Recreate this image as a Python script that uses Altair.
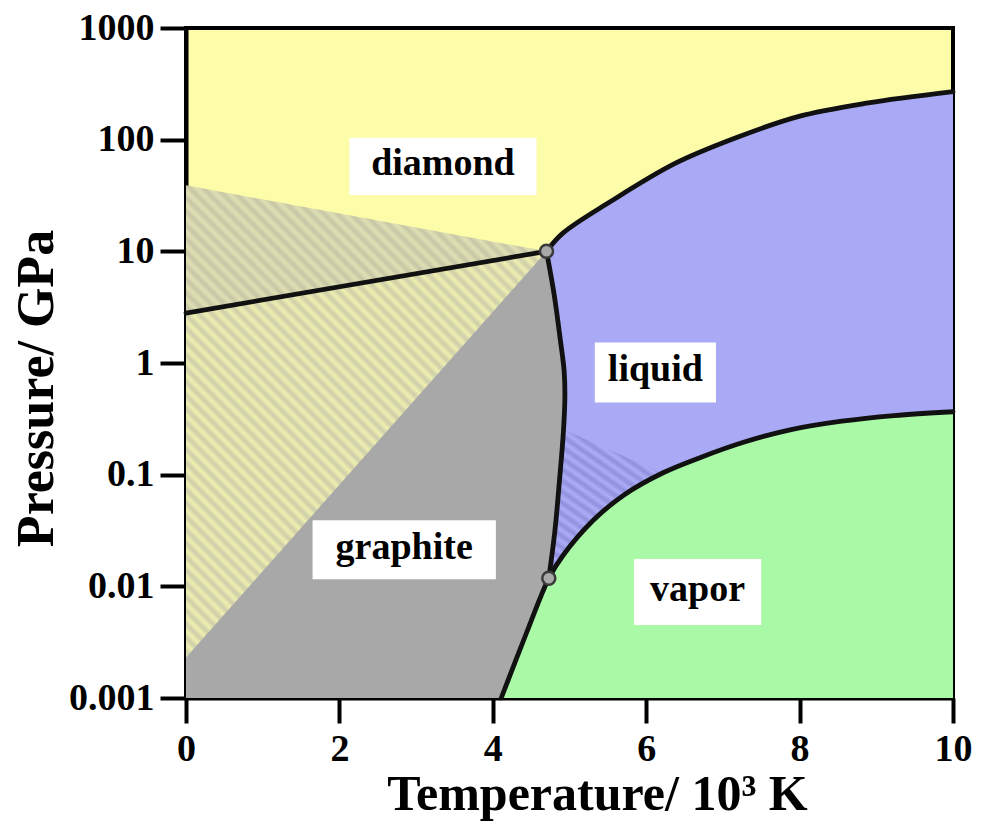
import math
import altair as alt
import numpy as np
import pandas as pd

# ---------------- data ----------------
x_ticks = [0, 2, 4, 6, 8, 10]
y_ticks = [0.001, 0.01, 0.1, 1, 10, 100, 1000]

# graphite / diamond boundary
gd_T = [0.0, 4.70]
gd_P = [2.8, 10.0]

# diamond / liquid boundary
dl_T = [4.70, 4.91, 5.53, 6.37, 7.17, 7.98, 8.87, 10.0]
dl_P = [10.0, 14.5, 27.8, 61.0, 104.0, 161.0, 212.0, 269.0]

# graphite / liquid boundary (from upper triple point downwards)
gl_T = [4.70, 4.80, 4.88, 4.93, 4.94, 4.92, 4.87, 4.81, 4.73]
gl_P = [10.0, 4.10, 1.62, 0.85, 0.50, 0.239, 0.090, 0.0316, 0.0118]

# graphite / vapor boundary
gv_T = [4.11, 4.44, 4.73]
gv_P = [0.001, 0.00384, 0.0118]

# liquid / vapor boundary
lv_T = [4.73, 4.91, 5.31, 5.71, 6.22, 6.70, 7.29, 7.89, 8.55, 9.23, 10.0]
lv_P = [0.0118, 0.0187, 0.039, 0.0658, 0.104, 0.142, 0.197, 0.253, 0.301, 0.338, 0.366]

# metastable (hatched) region edges
metaA_T = [0.0, 4.70]
metaA_P = [39.0, 10.0]      # upper edge of metastable graphite in diamond field
metaB_T = [0.0, 4.70]
metaB_P = [0.0023, 10.0]    # lower edge of metastable diamond in graphite field
metaC_T = [4.70, 6.20]
metaC_P = [0.296, 0.104]    # upper edge of metastable liquid

triple_T = [4.70, 4.73]
triple_P = [10.0, 0.0118]

labels = ["diamond", "liquid", "graphite", "vapor"]
box_T1 = [2.13, 5.33, 1.65, 5.84]
box_T2 = [4.57, 6.91, 4.04, 7.50]
box_P1 = [31.9, 0.444, 0.0116, 0.0045]
box_P2 = [104.0, 1.53, 0.039, 0.0176]

P_MIN, P_MAX = 0.001, 1000.0
T_MIN, T_MAX = 0.0, 10.0

# ---------------- layout / style ----------------
W, H = 767, 670
FONT = "Liberation Serif"
YELLOW = "#fdfca8"
BLUE = "#a9a9f6"
GREEN = "#a9f9a6"
GRAY = "#a8a8a8"


def px(T):
    return (T - T_MIN) / (T_MAX - T_MIN) * W


def py(P):
    return (math.log10(P_MAX) - math.log10(P)) / (math.log10(P_MAX) - math.log10(P_MIN)) * H


def stripes(xs, ys, c1, c2, pitch=9.5, angle=45):
    """Linear gradient that looks like diagonal hatching inside the mark's bbox."""
    w = max(xs) - min(xs)
    h = max(ys) - min(ys)
    th = math.radians(angle)
    nx, ny = -math.sin(th), math.cos(th)
    proj = [nx * X + ny * Y for X, Y in [(0, 0), (w, 0), (0, h), (w, h)]]
    mn, mx = min(proj), max(proj)
    L = mx - mn
    a, b, c = nx * w / L, ny * h / L, -mn / L
    s = a * a + b * b
    vx, vy = a / s, b / s
    x1, y1 = -c * vx, -c * vy
    n = max(1, int(round(L / pitch)))
    stops = []
    for i in range(n):
        stops.append({"offset": i / n, "color": c1})
        stops.append({"offset": (i + 0.5) / n, "color": c2})
    stops.append({"offset": 1.0, "color": c1})
    return {"gradient": "linear", "x1": x1, "y1": y1, "x2": x1 + vx, "y2": y1 + vy, "stops": stops}


xs = alt.Scale(domain=[T_MIN, T_MAX], nice=False, zero=False)
ys = alt.Scale(type="log", domain=[P_MIN, P_MAX], nice=False)

xaxis = alt.Axis(
    values=x_ticks, format="d", title="Temperature/ 10³ K", grid=False,
    labelFont=FONT, labelFontSize=38, labelFontWeight="bold", labelColor="black",
    labelPadding=7, labelFlush=False, labelOverlap=False,
    tickSize=25, tickWidth=4, tickColor="black",
    domainColor="black", domainWidth=4,
    titleFont=FONT, titleFontSize=50, titleFontWeight="bold", titleColor="black",
    titleX=411, titleY=111, titleBaseline="alphabetic",
)
yaxis = alt.Axis(
    values=y_ticks, format="~g", title="Pressure/ GPa", grid=False,
    labelFont=FONT, labelFontSize=38, labelFontWeight="bold", labelColor="black",
    labelPadding=6, labelFlush=False, labelOverlap=False,
    tickSize=26, tickWidth=4, tickColor="black",
    domainColor="black", domainWidth=4,
    titleFont=FONT, titleFontSize=52, titleFontWeight="bold", titleColor="black",
    titleX=-134, titleY=360, titleAngle=270, titleBaseline="alphabetic",
)


def X(field="T"):
    return alt.X(f"{field}:Q", scale=xs, axis=xaxis)


def Y(field="P"):
    return alt.Y(f"{field}:Q", scale=ys, axis=yaxis)


INTERP = "catmull-rom"

# liquid field
blue_df = pd.DataFrame({"T": dl_T, "P": dl_P, "P0": [P_MIN] * len(dl_T)})
blue = alt.Chart(blue_df).mark_area(color=BLUE, interpolate=INTERP).encode(
    x=X(), y=Y(), y2="P0:Q")

# metastable liquid (hatched)
c_df = pd.DataFrame({"T": metaC_T, "P": metaC_P, "P0": [P_MIN] * 2})
c_grad = stripes([px(t) for t in metaC_T] * 2,
                 [py(p) for p in metaC_P] + [py(P_MIN)] * 2,
                 "#adadf8", "#8f8fdc", pitch=9, angle=35)
hatchC = alt.Chart(c_df).mark_area(color=c_grad).encode(x=X(), y=Y(), y2="P0:Q")

# vapor field
v_T = gv_T + lv_T[1:]
v_P = gv_P + lv_P[1:]
green_df = pd.DataFrame({"T": v_T, "P": v_P, "P0": [P_MIN] * len(v_T)})
green = alt.Chart(green_df).mark_area(color=GREEN, interpolate=INTERP).encode(
    x=X(), y=Y(), y2="P0:Q")

# graphite field (horizontal area from T=0 to its right boundary)
g_T = gv_T + gl_T[::-1][1:]
g_P = gv_P + gl_P[::-1][1:]
gray_df = pd.DataFrame({"T": g_T, "P": g_P, "T0": [T_MIN] * len(g_T)})
gray = alt.Chart(gray_df).mark_area(color=GRAY, orient="horizontal", interpolate=INTERP).encode(
    x=X(), x2="T0:Q", y=Y())

# metastable graphite in the diamond field
a_df = pd.DataFrame({"T": metaA_T, "P": gd_P, "P2": metaA_P})
a_grad = stripes([px(t) for t in metaA_T] * 2,
                 [py(p) for p in gd_P + metaA_P],
                 "#e0e0b4", "#c6c6a6")
hatchA = alt.Chart(a_df).mark_area(color=a_grad).encode(x=X(), y=Y(), y2="P2:Q")

# metastable diamond in the graphite field
b_df = pd.DataFrame({"T": metaB_T, "P": metaB_P, "P2": gd_P})
b_grad = stripes([px(t) for t in metaB_T] * 2,
                 [py(p) for p in metaB_P + gd_P],
                 "#efefb0", "#cdcdaa")
hatchB = alt.Chart(b_df).mark_area(color=b_grad).encode(x=X(), y=Y(), y2="P2:Q")

# phase boundaries
segs = [("gd", gd_T, gd_P), ("dl", dl_T, dl_P), ("gl", gl_T, gl_P), ("v", v_T, v_P)]
rows = []
for name, ts, ps in segs:
    for i, (t, p) in enumerate(zip(ts, ps)):
        rows.append({"seg": name, "i": i, "T": t, "P": p})
line_df = pd.DataFrame(rows)
lines = alt.Chart(line_df).mark_line(color="#111111", strokeWidth=4.8, interpolate=INTERP,
                                     strokeCap="round", strokeJoin="round").encode(
    x=X(), y=Y(), detail="seg:N", order="i:Q")

# triple points
tp_df = pd.DataFrame({"T": triple_T, "P": triple_P})
tpoints = alt.Chart(tp_df).mark_point(shape="circle", filled=True, size=170, color="#a9a9a9",
                                      stroke="#3a3a3a", strokeWidth=2.5, opacity=1).encode(
    x=X(), y=Y())

# label boxes
lab_df = pd.DataFrame({
    "label": labels, "T": box_T1, "T2": box_T2, "P": box_P1, "P2": box_P2,
    "Tc": [(a + b) / 2 for a, b in zip(box_T1, box_T2)],
    "Pc": [math.sqrt(a * b) for a, b in zip(box_P1, box_P2)],
})
boxes = alt.Chart(lab_df).mark_rect(color="white").encode(
    x=X(), x2="T2:Q", y=Y(), y2="P2:Q")
texts = alt.Chart(lab_df).mark_text(font=FONT, fontSize=38, fontWeight="bold", color="black",
                                    align="center", baseline="middle", dy=-2).encode(
    x=X("Tc"), y=Y("Pc"), text="label:N")

chart = alt.layer(blue, hatchC, green, gray, hatchA, hatchB, lines, tpoints, boxes, texts).properties(
    width=W, height=H,
    autosize=alt.AutoSizeParams(type="none"),
    padding={"left": 178, "top": 20, "right": 20, "bottom": 123},
).configure_view(fill=YELLOW, stroke="black", strokeWidth=4)

chart.save("out.html", embed_options={"renderer": "svg", "actions": False})
